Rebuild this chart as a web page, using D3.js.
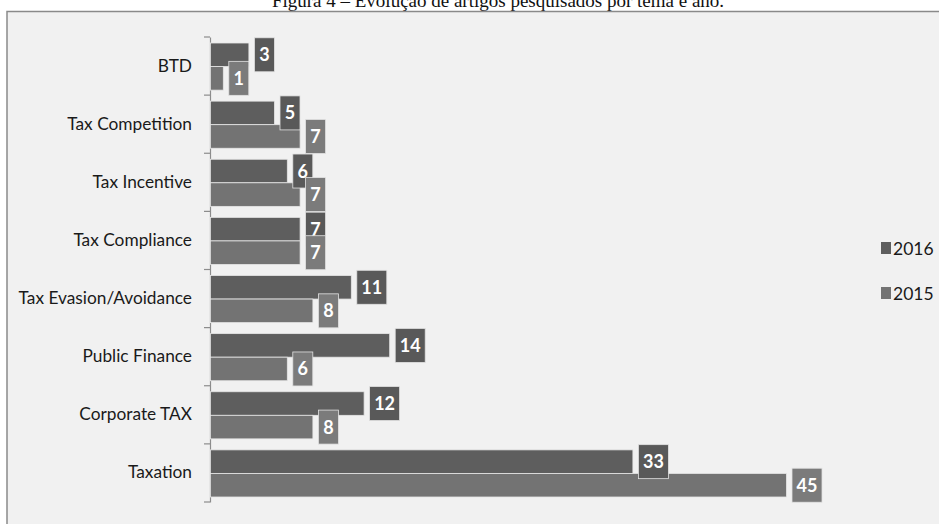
<!DOCTYPE html>
<html>
<head>
<meta charset="utf-8">
<script src="https://cdn.jsdelivr.net/npm/d3@7"></script>
<style>
  html, body { margin: 0; padding: 0; background: #ffffff; }
  svg { display: block; }
</style>
</head>
<body>
<svg id="chart" width="939" height="524"></svg>
<script>
// Articles found per topic, by year
const categories = ["BTD", "Tax Competition", "Tax Incentive", "Tax Compliance",
                    "Tax Evasion/Avoidance", "Public Finance", "Corporate TAX", "Taxation"];
const values2016 = [3, 5, 6, 7, 11, 14, 12, 33];
const values2015 = [1, 7, 7, 7, 8, 6, 8, 45];
const seriesNames = ["2016", "2015"];
const titleText = "Figura 4 – Evolução de artigos pesquisados por tema e ano.";

const colors = { "2016": "#5e5e5e", "2015": "#737373" };
const boxColors = { "2016": "#595959", "2015": "#7b7b7b" };

const svg = d3.select("#chart");
const W = 939, H = 524;

// Caption above the frame
svg.append("text")
  .attr("x", 498).attr("y", 7)
  .attr("text-anchor", "middle")
  .attr("font-family", "'Liberation Serif', 'Times New Roman', serif")
  .attr("font-size", 19)
  .attr("fill", "#111")
  .text(titleText);

// Chart frame
svg.append("rect")
  .attr("x", 7).attr("y", 11.5)
  .attr("width", W).attr("height", H)
  .attr("fill", "#f1f1f1")
  .attr("stroke", "#8a8a8a")
  .attr("stroke-width", 1.5);

const x0 = 210, plotTop = 37, plotBottom = 502;
const x = d3.scaleLinear().domain([0, 45]).range([x0, 786]);
const y = d3.scaleBand().domain(categories).range([plotTop, plotBottom]);

const band = y.bandwidth();
const padTop = 6, padBot = 5;
const barH = (band - padTop - padBot) / 2;

// Category axis
const axis = d3.axisLeft(y).tickSize(0).tickPadding(18);
const gAxis = svg.append("g").attr("transform", `translate(${x0},0)`).call(axis);
gAxis.select(".domain").attr("stroke", "#8c8c8c").attr("stroke-width", 1.2);
gAxis.selectAll(".tick text")
  .attr("font-family", "Lato, 'Open Sans', sans-serif")
  .attr("font-size", 17.3)
  .attr("fill", "#1a1a1a");

// Tick marks between categories
const bounds = categories.map(c => y(c)).concat([plotBottom]);
svg.append("g").selectAll("line").data(bounds).join("line")
  .attr("x1", x0 - 6).attr("x2", x0)
  .attr("y1", d => d).attr("y2", d => d)
  .attr("stroke", "#8c8c8c").attr("stroke-width", 1.2);

const rows = categories.map((c, i) => ({ c, v: { "2016": values2016[i], "2015": values2015[i] } }));

seriesNames.forEach((s, si) => {
  const g = svg.append("g");
  const yb = d => y(d.c) + padTop + si * barH;

  g.selectAll("rect.bar").data(rows).join("rect")
    .attr("class", "bar")
    .attr("x", x0 + 0.5)
    .attr("y", yb)
    .attr("width", d => x(d.v[s]) - x0)
    .attr("height", barH)
    .attr("fill", colors[s])
    .attr("stroke", "#e6e6e6")
    .attr("stroke-width", 0.8);
});

// Value labels in boxes beside each bar
seriesNames.forEach((s, si) => {
  const g = svg.append("g");
  const cy = d => y(d.c) + padTop + si * barH + barH / 2;
  const bw = d => (String(d.v[s]).length > 1 ? 30 : 20);
  const bh = 34;

  g.selectAll("rect.box").data(rows).join("rect")
    .attr("class", "box")
    .attr("x", d => x(d.v[s]) + 6)
    .attr("y", d => cy(d) - bh / 2)
    .attr("width", bw)
    .attr("height", bh)
    .attr("fill", boxColors[s])
    .attr("stroke", "#e2e2e2")
    .attr("stroke-width", 0.8);

  g.selectAll("text").data(rows).join("text")
    .attr("x", d => x(d.v[s]) + 6 + bw(d) / 2)
    .attr("y", d => cy(d) + 6.5)
    .attr("text-anchor", "middle")
    .attr("font-family", "Lato, 'Open Sans', sans-serif")
    .attr("font-weight", "bold")
    .attr("font-size", 18)
    .attr("fill", "#ffffff")
    .text(d => d.v[s]);
});

// Legend
const legend = svg.append("g");
seriesNames.forEach((s, i) => {
  const ly = 248 + i * 45;
  legend.append("rect")
    .attr("x", 881).attr("y", ly - 6)
    .attr("width", 10).attr("height", 12)
    .attr("fill", colors[s]);
  legend.append("text")
    .attr("x", 893).attr("y", ly + 7)
    .attr("font-family", "Lato, 'Open Sans', sans-serif")
    .attr("font-size", 17.5)
    .attr("fill", "#1a1a1a")
    .text(s);
});
</script>
</body>
</html>
